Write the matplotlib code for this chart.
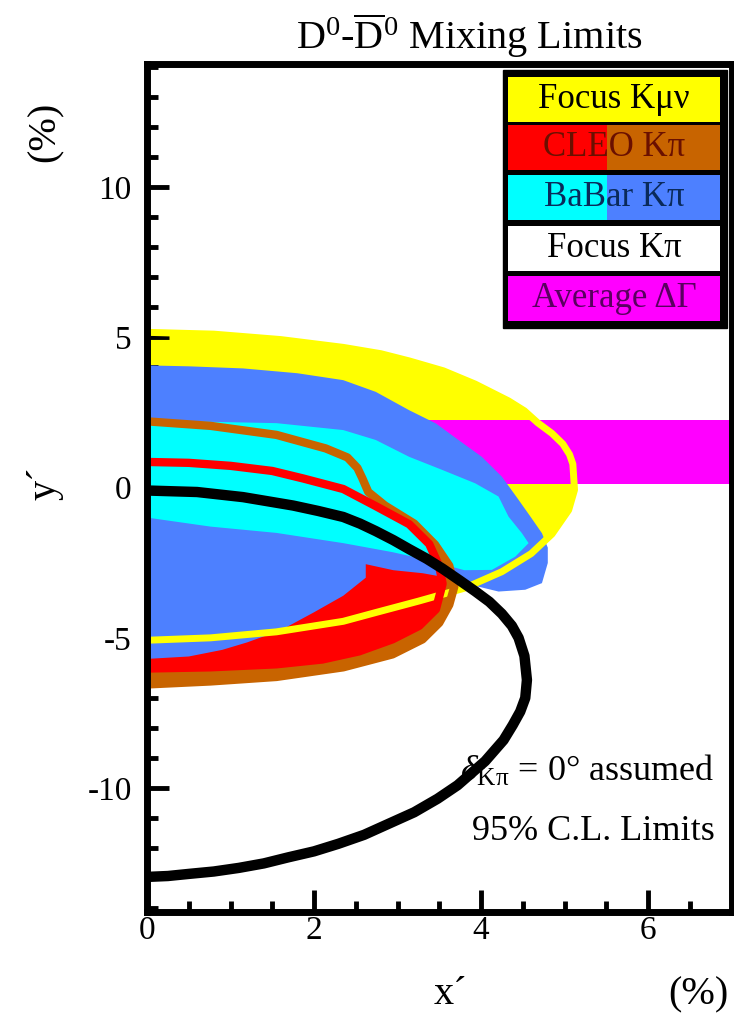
import matplotlib.pyplot as plt
from matplotlib.patches import Rectangle
from matplotlib.ticker import MultipleLocator

plt.rcParams['font.family'] = ['Liberation Serif', 'DejaVu Serif']
plt.rcParams['mathtext.fontset'] = 'custom'
plt.rcParams['mathtext.rm'] = 'Liberation Serif'
plt.rcParams['mathtext.it'] = 'Liberation Serif:italic'
plt.rcParams['axes.unicode_minus'] = False

# Focus K mu nu (circle), outline
kmunu_x = [0, 0.8, 1.6, 2.35, 2.8, 3.14, 3.55, 3.93, 4.33, 4.52, 4.68, 4.85, 4.98, 5.06, 5.1,
           5.12, 5.05, 4.85, 4.6, 4.25, 3.8, 3.25, 2.75, 2.35, 1.55, 0.76, 0]
kmunu_y = [5.16, 5.1, 4.92, 4.66, 4.45, 4.21, 3.88, 3.44, 2.88, 2.55, 2.15, 1.8, 1.45, 1.1, 0.78,
           -0.08, -0.75, -1.55, -2.2, -2.8, -3.35, -3.78, -4.15, -4.45, -4.8, -5.0, -5.08]

# average Delta Gamma band
dgamma_x = [0, 7]
dgamma_lo = 0.12
dgamma_hi = 2.24

# BaBar K pi, outer (blue) and inner (cyan) regions
babar_out_x = [0, 0.5, 1.15, 1.8, 2.35, 2.74, 3.14, 3.46, 3.73, 4.01, 4.25, 4.45, 4.6, 4.73, 4.8,
               4.8, 4.73, 4.53, 4.21, 3.9, 3.6, 3.3, 2.95, 2.62, 2.62, 2.35, 2.0, 1.6, 1.2, 0.9,
               0.5, 0]
babar_out_y = [4.06, 4.03, 3.96, 3.8, 3.57, 3.18, 2.57, 2.13, 1.58, 1.02, 0.36, -0.41, -1.0, -1.52,
               -2.0, -2.51, -3.18, -3.4, -3.46, -3.25, -3.0, -2.85, -2.75, -2.55, -3.0, -3.6,
               -4.15, -4.75, -5.15, -5.4, -5.62, -5.7]
babar_in_x = [0, 0.5, 1.55, 2.35, 2.74, 3.14, 3.54, 3.93, 4.21, 4.33, 4.49, 4.57, 4.41, 4.13,
              3.8, 3.34, 2.94, 2.35, 1.55, 0.76, 0]
babar_in_y = [2.2, 2.2, 2.14, 1.91, 1.58, 1.02, 0.58, 0.14, -0.3, -0.97, -1.52, -1.85, -2.3, -2.74,
              -2.75, -2.4, -2.15, -1.85, -1.51, -1.3, -1.0]

# CLEO K pi, inner (red) and outer (orange) contours
cleo_in_x = [0, 0.5, 1.0, 1.5, 1.87, 2.35, 2.74, 3.14, 3.38, 3.5, 3.54, 3.46, 3.26, 2.94, 2.54,
             2.1, 1.55, 0.76, 0]
cleo_in_y = [0.85, 0.82, 0.72, 0.55, 0.3, -0.05, -0.62, -1.22, -1.88, -2.62, -3.2, -4.05, -4.6,
             -5.05, -5.45, -5.72, -5.88, -5.98, -6.02]
cleo_out_x = [0, 0.76, 1.55, 2.14, 2.4, 2.52, 2.58, 2.65, 2.85, 3.2, 3.45, 3.62, 3.68, 3.62, 3.5,
              3.3, 2.94, 2.35, 1.55, 0.76, 0]
cleo_out_y = [2.2, 2.05, 1.75, 1.3, 1.0, 0.65, 0.3, -0.15, -0.6, -1.2, -1.9, -2.6, -3.3, -3.9,
              -4.5, -5.05, -5.55, -5.98, -6.3, -6.45, -6.55]

# Focus K pi contour
focus_kpi_x = [0, 0.6, 1.15, 1.75, 2.05, 2.35, 2.55, 2.74, 2.95, 3.14, 3.35, 3.54, 3.75, 3.93,
               4.1, 4.25, 4.37, 4.45, 4.52, 4.55, 4.53, 4.47, 4.38, 4.27, 4.05, 3.72, 3.48, 3.2,
               2.88, 2.6, 2.29, 2.0, 1.69, 1.4, 1.1, 0.8, 0.5, 0.25, 0]
focus_kpi_y = [-0.1, -0.15, -0.32, -0.6, -0.78, -0.98, -1.2, -1.45, -1.75, -2.05, -2.37, -2.7,
               -3.1, -3.45, -3.8, -4.2, -4.6, -5.0, -5.6, -6.4, -7.0, -7.45, -7.9, -8.4, -9.1,
               -9.9, -10.35, -10.8, -11.2, -11.55, -11.85, -12.1, -12.3, -12.5, -12.65, -12.77,
               -12.85, -12.92, -12.95]

legend_labels = ['Focus Kμν', 'CLEO Kπ', 'BaBar Kπ', 'Focus Kπ', 'Average ΔΓ']
legend_left = ['#ffff00', '#ff0000', '#00ffff', '#ffffff', '#ff00ff']
legend_right = ['#ffff00', '#c86400', '#4d80ff', '#ffffff', '#ff00ff']
legend_text = ['#000000', '#6a1000', '#0a2a5a', '#000000', '#5a0060']

YELLOW = '#ffff00'
MAGENTA = '#ff00ff'
RED = '#ff0000'
ORANGE = '#c86400'
CYAN = '#00ffff'
BLUE = '#4d80ff'

fig = plt.figure(figsize=(7.34, 10.18), dpi=100)
ax = fig.add_axes([147 / 734, 1 - 911.5 / 1018, 584.5 / 734, 848 / 1018])

ax.fill(kmunu_x, kmunu_y, color=YELLOW, lw=0, zorder=1)
ax.fill_between(dgamma_x, dgamma_lo, dgamma_hi, color=MAGENTA, lw=0, zorder=2)
ax.fill(cleo_out_x, cleo_out_y, color=ORANGE, lw=0, zorder=3)
ax.fill(cleo_in_x, cleo_in_y, color=RED, lw=0, zorder=4)
ax.fill(babar_out_x, babar_out_y, color=BLUE, lw=0, zorder=5)
ax.fill(babar_in_x, babar_in_y, color=CYAN, lw=0, zorder=6)
ax.plot(kmunu_x, kmunu_y, color=YELLOW, lw=5, zorder=7, solid_joinstyle='round')
ax.plot(cleo_out_x, cleo_out_y, color=ORANGE, lw=6, zorder=8, solid_joinstyle='round')
ax.plot(cleo_in_x, cleo_in_y, color=RED, lw=6, zorder=9, solid_joinstyle='round')
ax.plot(focus_kpi_x, focus_kpi_y, color='black', lw=7.5, zorder=10, solid_joinstyle='round')

ax.set_xlim(0, 7)
ax.set_ylim(-14.1, 14.1)
ax.xaxis.set_major_locator(MultipleLocator(2))
ax.xaxis.set_minor_locator(MultipleLocator(0.5))
ax.yaxis.set_major_locator(MultipleLocator(5))
ax.yaxis.set_minor_locator(MultipleLocator(1))
ax.tick_params(which='both', direction='in', top=False, right=False, width=3.5, labelsize=24)
ax.tick_params(which='major', length=16)
ax.tick_params(which='minor', length=8)
ax.tick_params(axis='y', pad=11)
ax.tick_params(axis='x', pad=3)
for sp in ax.spines.values():
    sp.set_linewidth(5)
    sp.set_zorder(15)

ax.text(6.8, -9.45, r'$\delta_{\mathrm{K\pi}}$ = 0° assumed', ha='right', va='center',
        fontsize=26, zorder=12)
ax.text(6.8, -11.45, '95% C.L. Limits', ha='right', va='center', fontsize=26, zorder=12)

# legend box, drawn in pixel units of the axes
def ax_xy(px, py):
    return (px - 147) / 584.5, (911.5 - py) / 848

x0, y0 = ax_xy(503, 328)
x1, y1 = ax_xy(727, 70)
ax.add_patch(Rectangle((x0, y0), x1 - x0, y1 - y0, transform=ax.transAxes,
                       facecolor='black', edgecolor='black', zorder=20, clip_on=False))
row_top = [77, 125, 175, 226, 276]
row_h = 45
for i, lab in enumerate(legend_labels):
    lx, ly = ax_xy(508, row_top[i] + row_h)
    mx, _ = ax_xy(607, 0)
    rx, ty = ax_xy(720, row_top[i])
    ax.add_patch(Rectangle((lx, ly), mx - lx, ty - ly, transform=ax.transAxes,
                           facecolor=legend_left[i], lw=0, zorder=21, clip_on=False))
    ax.add_patch(Rectangle((mx, ly), rx - mx, ty - ly, transform=ax.transAxes,
                           facecolor=legend_right[i], lw=0, zorder=21, clip_on=False))
    ax.text((lx + rx) / 2, (ly + ty) / 2, lab, transform=ax.transAxes, ha='center',
            va='center', fontsize=25, color=legend_text[i], zorder=22)

fig.text(469 / 734, 1 - 36 / 1018, r'D$^0$-$\overline{\mathrm{D}}^0$ Mixing Limits',
         ha='center', va='center', fontsize=29)
fig.text(450 / 734, 1 - 995 / 1018, 'x´', ha='center', va='center', fontsize=29)
fig.text(698 / 734, 1 - 995 / 1018, '(%)', ha='center', va='center', fontsize=29)
fig.text(45 / 734, 1 - 483 / 1018, 'y´', ha='center', va='center', fontsize=29, rotation=90)
fig.text(45 / 734, 1 - 132 / 1018, '(%)', ha='center', va='center', fontsize=29, rotation=90)

fig.savefig('out.png', dpi=100)
